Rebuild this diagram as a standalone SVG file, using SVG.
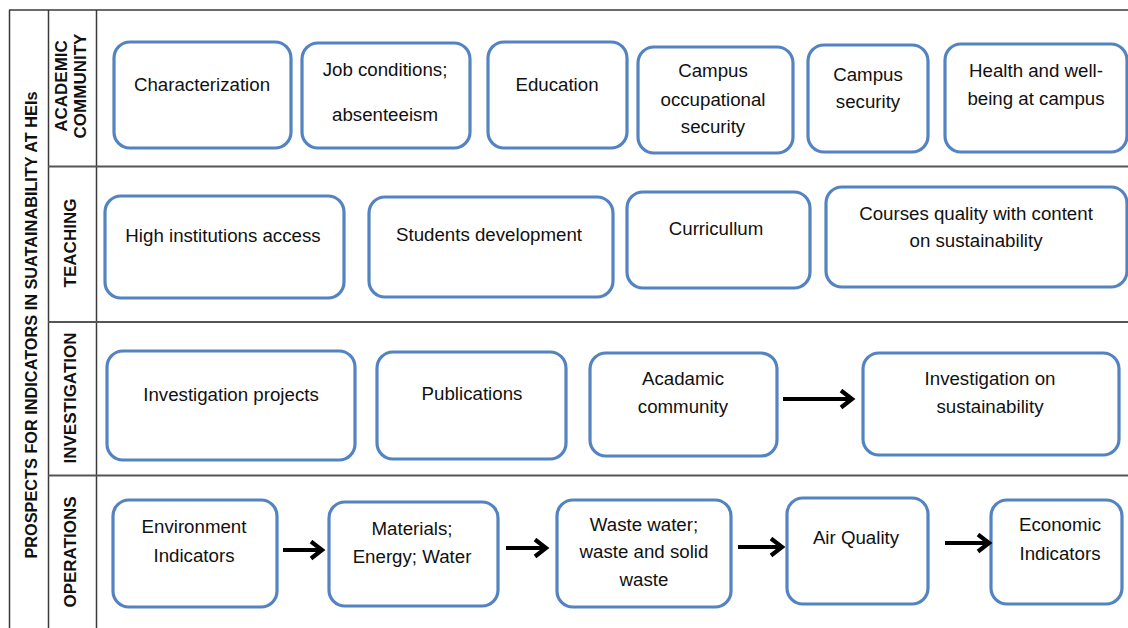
<svg xmlns="http://www.w3.org/2000/svg" width="1128" height="628" viewBox="0 0 1128 628">
<style>
.grid{stroke:#3a3a3a;stroke-width:1.5;fill:none}
.row{stroke:#555;stroke-width:2.2;fill:none}
.box{fill:#fff;stroke:#5383c0;stroke-width:3.2}
.t{font-family:"Liberation Sans",Arial,sans-serif;font-size:18.7px;fill:#111;text-anchor:middle}
.h{font-family:"Liberation Sans",Arial,sans-serif;font-size:17px;font-weight:bold;fill:#111;text-anchor:middle}
.ttl{font-family:"Liberation Sans",Arial,sans-serif;font-size:16.3px;font-weight:bold;fill:#111;text-anchor:middle}
.arr{stroke:#000;stroke-width:3.8;fill:none;marker-end:url(#ah)}
</style>
<defs>
<marker id="ah" markerUnits="userSpaceOnUse" markerWidth="20" markerHeight="24" refX="14" refY="10" orient="auto">
<path d="M3,1.5 L14,10 L3,18.5" fill="none" stroke="#000" stroke-width="4.2" stroke-linejoin="miter"/>
</marker>
</defs>
<rect width="1128" height="628" fill="#fff"/>
<g id="table">
<line class="grid" x1="9" y1="10" x2="1128" y2="10"/>
<line class="grid" x1="9.5" y1="10" x2="9.5" y2="628"/>
<line class="grid" x1="48.5" y1="10" x2="48.5" y2="628"/>
<line class="grid" x1="96.5" y1="10" x2="96.5" y2="628"/>
<line class="row" x1="48" y1="166.5" x2="1128" y2="166.5"/>
<line class="row" x1="48" y1="322" x2="1128" y2="322"/>
<line class="row" x1="48" y1="475.5" x2="1128" y2="475.5"/>
</g>
<g id="labels">
<text class="ttl" transform="translate(37,325) rotate(-90)">PROSPECTS FOR INDICATORS IN SUATAINABILITY AT HEIs</text>
<text class="h" transform="translate(66.5,86) rotate(-90)">ACADEMIC</text>
<text class="h" transform="translate(85.5,86) rotate(-90)">COMMUNITY</text>
<text class="h" transform="translate(76,243) rotate(-90)">TEACHING</text>
<text class="h" transform="translate(76,398) rotate(-90)">INVESTIGATION</text>
<text class="h" transform="translate(76,552) rotate(-90)">OPERATIONS</text>
</g>
<g id="n1"><rect class="box" x="114" y="42" width="177" height="106" rx="16"/><text class="t" x="202" y="91">Characterization</text></g>
<g id="n2"><rect class="box" x="302" y="43" width="168" height="105" rx="16"/><text class="t" x="385" y="76">Job conditions;</text><text class="t" x="385" y="121">absenteeism</text></g>
<g id="n3"><rect class="box" x="488" y="42" width="139" height="106" rx="16"/><text class="t" x="557" y="91">Education</text></g>
<g id="n4"><rect class="box" x="638" y="47" width="155" height="106" rx="16"/><text class="t" x="713" y="77">Campus</text><text class="t" x="713" y="106">occupational</text><text class="t" x="713" y="133">security</text></g>
<g id="n5"><rect class="box" x="808" y="45" width="120" height="107" rx="16"/><text class="t" x="868" y="81">Campus</text><text class="t" x="868" y="108">security</text></g>
<g id="n6"><rect class="box" x="945" y="44" width="182" height="108" rx="16"/><text class="t" x="1036" y="77">Health and well-</text><text class="t" x="1036" y="105">being at campus</text></g>
<g id="n7"><rect class="box" x="105" y="196" width="239" height="102" rx="16"/><text class="t" x="223" y="242">High institutions access</text></g>
<g id="n8"><rect class="box" x="369" y="197" width="244" height="100" rx="16"/><text class="t" x="489" y="241">Students development</text></g>
<g id="n9"><rect class="box" x="627" y="192" width="183" height="96" rx="16"/><text class="t" x="716" y="235">Curricullum</text></g>
<g id="n10"><rect class="box" x="826" y="187" width="301" height="100" rx="16"/><text class="t" x="976" y="220">Courses quality with content</text><text class="t" x="976" y="247">on sustainability</text></g>
<g id="n11"><rect class="box" x="107" y="351" width="248" height="109" rx="16"/><text class="t" x="231" y="401">Investigation projects</text></g>
<g id="n12"><rect class="box" x="377" y="352" width="189" height="107" rx="16"/><text class="t" x="472" y="400">Publications</text></g>
<g id="n13"><rect class="box" x="590" y="353" width="187" height="103" rx="16"/><text class="t" x="683" y="385">Acadamic</text><text class="t" x="683" y="413">community</text></g>
<g id="n14"><rect class="box" x="863" y="353" width="256" height="102" rx="16"/><text class="t" x="990" y="385">Investigation on</text><text class="t" x="990" y="413">sustainability</text></g>
<g id="n15"><rect class="box" x="113" y="500" width="164" height="107" rx="16"/><text class="t" x="194" y="533">Environment</text><text class="t" x="194" y="562">Indicators</text></g>
<g id="n16"><rect class="box" x="329" y="502" width="169" height="104" rx="16"/><text class="t" x="412" y="535">Materials;</text><text class="t" x="412" y="563">Energy; Water</text></g>
<g id="n17"><rect class="box" x="557" y="500" width="174" height="107" rx="16"/><text class="t" x="644" y="531">Waste water;</text><text class="t" x="644" y="558">waste and solid</text><text class="t" x="644" y="586">waste</text></g>
<g id="n18"><rect class="box" x="787" y="498" width="141" height="106" rx="16"/><text class="t" x="856" y="544">Air Quality</text></g>
<g id="n19"><rect class="box" x="991" y="500" width="131" height="104" rx="16"/><text class="t" x="1060" y="531">Economic</text><text class="t" x="1060" y="560">Indicators</text></g>
<g id="connectors">
<line class="arr" x1="783" y1="399" x2="852" y2="399"/>
<line class="arr" x1="283" y1="550" x2="322" y2="550"/>
<line class="arr" x1="506" y1="548" x2="546" y2="548"/>
<line class="arr" x1="738" y1="547" x2="782" y2="547"/>
<line class="arr" x1="945" y1="543" x2="989" y2="543"/>
</g>
</svg>
